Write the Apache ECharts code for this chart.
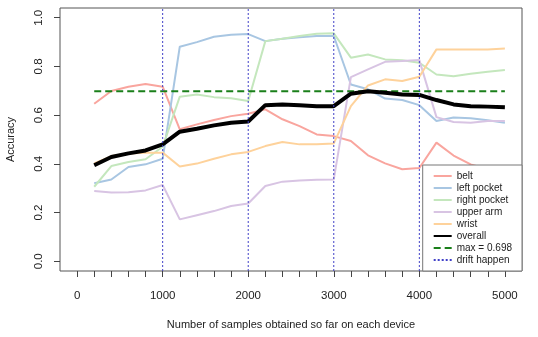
<!DOCTYPE html>
<html>
<head>
<meta charset="utf-8">
<script src="https://cdn.jsdelivr.net/npm/echarts@6/dist/echarts.min.js"></script>
<style>html,body{margin:0;padding:0;background:#fff}#c{width:538px;height:337px}</style>
</head>
<body>
<div id="c"></div>
<script>
var samples = [200,400,600,800,1000,1200,1400,1600,1800,2000,2200,2400,2600,2800,3000,3200,3400,3600,3800,4000,4200,4400,4600,4800,5000];
var belt = [0.647,0.699,0.717,0.728,0.717,0.542,0.562,0.580,0.596,0.606,0.624,0.583,0.555,0.521,0.514,0.494,0.435,0.402,0.378,0.383,0.487,0.434,0.398,0.378,0.361];
var leftPocket = [0.320,0.336,0.387,0.398,0.421,0.881,0.900,0.922,0.930,0.933,0.904,0.914,0.920,0.925,0.925,0.726,0.706,0.668,0.662,0.641,0.576,0.590,0.587,0.579,0.569];
var rightPocket = [0.306,0.391,0.408,0.419,0.470,0.676,0.685,0.674,0.669,0.658,0.904,0.914,0.925,0.934,0.936,0.836,0.849,0.829,0.825,0.815,0.767,0.760,0.770,0.778,0.785];
var upperArm = [0.289,0.282,0.283,0.291,0.313,0.172,0.189,0.206,0.227,0.237,0.309,0.327,0.332,0.335,0.336,0.756,0.788,0.819,0.822,0.826,0.592,0.572,0.569,0.576,0.576];
var wrist = [0.402,0.432,0.442,0.446,0.446,0.389,0.401,0.421,0.439,0.449,0.473,0.490,0.480,0.480,0.484,0.637,0.722,0.747,0.740,0.758,0.870,0.870,0.870,0.870,0.874];
var overall = [0.394,0.428,0.443,0.455,0.480,0.532,0.544,0.558,0.569,0.574,0.641,0.644,0.641,0.637,0.637,0.688,0.698,0.692,0.685,0.683,0.662,0.644,0.637,0.635,0.632];
var maxValue = 0.698;
var driftPoints = [1000,2000,3000,4000];
var xTicks = [0,200,400,600,800,1000,1200,1400,1600,1800,2000,2200,2400,2600,2800,3000,3200,3400,3600,3800,4000,4200,4400,4600,4800,5000];
var xLabels = [0,1000,2000,3000,4000,5000];
var yTicks = [0,0.2,0.4,0.6,0.8,1.0];

function pairs(ys){ return samples.map(function(x,i){ return [x, ys[i]]; }); }
var yMin = -0.04, yMax = 1.04;
var driftData = [];
driftPoints.forEach(function(x){ driftData.push([x,yMin],[x,yMax],[x,'-']); });

var font = 'Liberation Sans, Arial, sans-serif';
var cols = {belt:'#f9a59e', left:'#a8c6e2', right:'#c4e7bd', upper:'#d8c4e3', wrist:'#fed29b', overall:'#000000', max:'#1a7f1a', drift:'#4040c8'};

function ln(name, data, color, width, type, z){
  return {name:name, type:'line', data:data, symbol:'none', smooth:false, silent:true, z:z||2,
    lineStyle:{color:color, width:width, type:type||'solid'}, itemStyle:{color:color}, connectNulls:false, animation:false};
}

var chart = echarts.init(document.getElementById('c'), null, {renderer:'canvas'});
chart.setOption({
  animation:false,
  backgroundColor:'#fff',
  grid:{left:60, right:16, top:8, bottom:66, show:true, borderColor:'#555', borderWidth:1, backgroundColor:'transparent',
    containLabel:false, outerBoundsMode:'none'},
  xAxis:{type:'value', min:-200, max:5200, interval:200,
    name:'Number of samples obtained so far on each device', nameLocation:'middle', nameGap:48,
    nameTextStyle:{fontFamily:font, fontSize:11, color:'#222'},
    axisLine:{show:false, onZero:false}, splitLine:{show:false},
    axisTick:{show:true, length:6, lineStyle:{color:'#444'}, customValues:xTicks},
    axisLabel:{customValues:xLabels, margin:19, fontFamily:font, fontSize:11.5, color:'#222',
      formatter:function(v){ return String(v); }}},
  yAxis:{type:'value', min:yMin, max:yMax,
    name:'Accuracy', nameLocation:'middle', nameGap:44, nameRotate:90,
    nameTextStyle:{fontFamily:font, fontSize:11, color:'#222'},
    axisLine:{show:false, onZero:false}, splitLine:{show:false},
    axisTick:{show:true, length:6, lineStyle:{color:'#444'}, customValues:yTicks},
    axisLabel:{customValues:yTicks, rotate:90, margin:15, fontFamily:font, fontSize:11.5, color:'#222',
      formatter:function(v){ return v.toFixed(1); }}},
  legend:{orient:'vertical', right:16, bottom:66, z:20, show:true,
    backgroundColor:'#fff', borderColor:'#777', borderWidth:1,
    padding:[6,10,6,10], itemWidth:18, itemHeight:10, itemGap:2,
    itemStyle:{opacity:0},
    textStyle:{fontFamily:font, fontSize:10, color:'#222'},
    data:['belt','left pocket','right pocket','upper arm','wrist','overall','max = 0.698','drift happen']},
  series:[
    ln('belt', pairs(belt), cols.belt, 2),
    ln('left pocket', pairs(leftPocket), cols.left, 2),
    ln('right pocket', pairs(rightPocket), cols.right, 2),
    ln('upper arm', pairs(upperArm), cols.upper, 2),
    ln('wrist', pairs(wrist), cols.wrist, 2),
    ln('max = 0.698', [[samples[0],maxValue],[samples[samples.length-1],maxValue]], cols.max, 2, [7,4], 3),
    ln('overall', pairs(overall), cols.overall, 4, 'solid', 4),
    ln('drift happen', driftData, cols.drift, 1, [2,2], 5)
  ]
});
</script>
</body>
</html>
